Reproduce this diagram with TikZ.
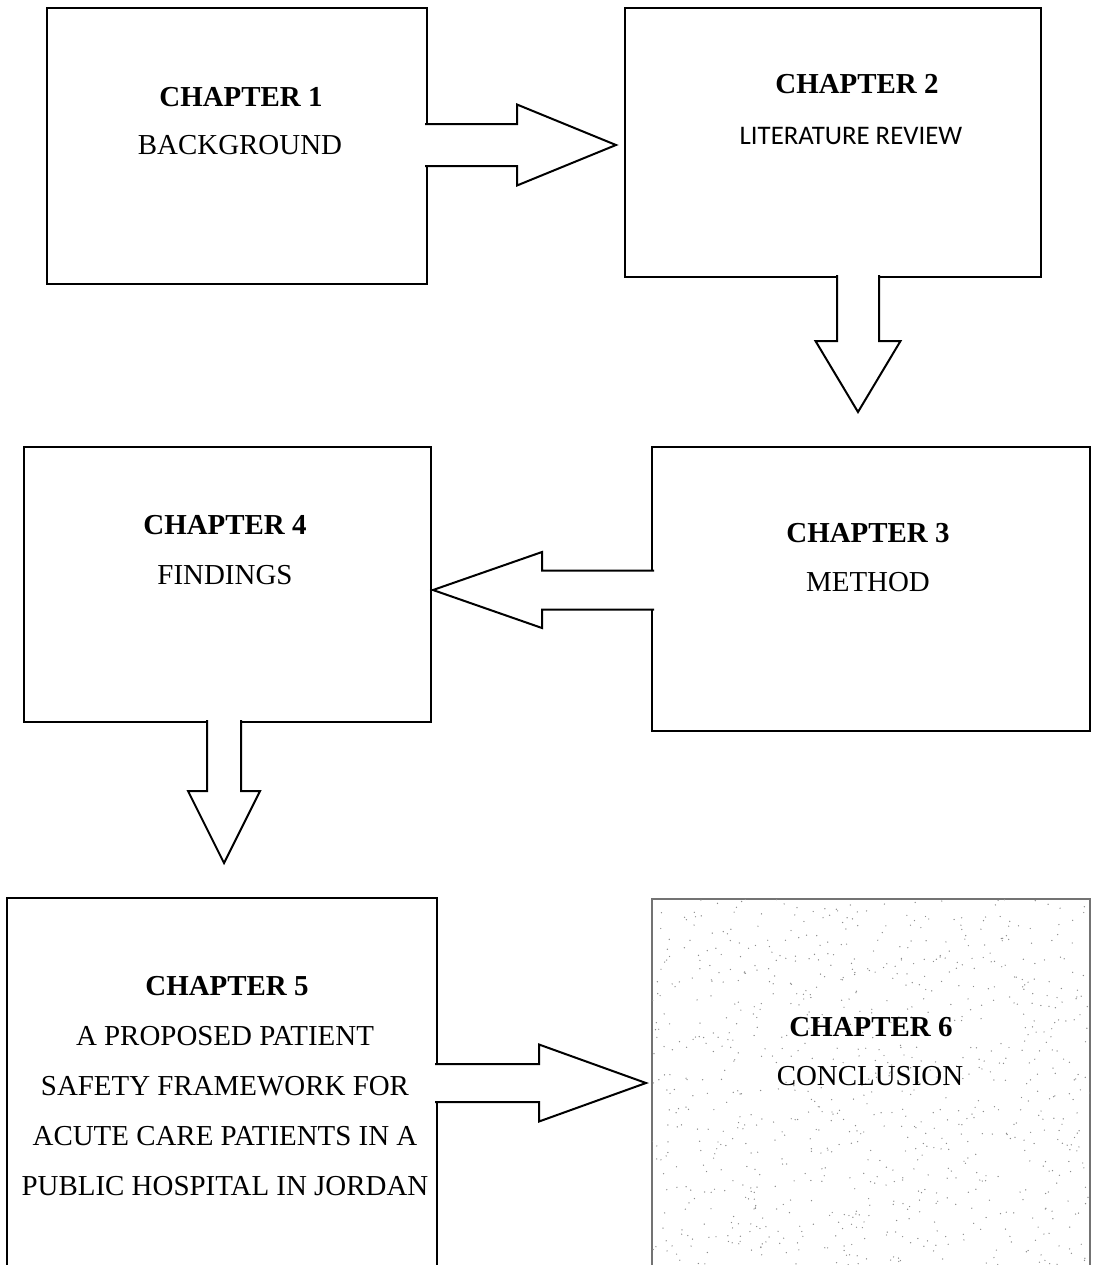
\documentclass[tikz,border=0pt]{standalone}
\usepackage{fontspec}
\setmainfont{Liberation Serif}
\newfontfamily\calibrifont{Carlito}
\usetikzlibrary{calc}
\begin{document}
\begin{tikzpicture}[x=0.75pt,y=-0.75pt,
  box/.style={draw, line width=1.5pt, inner sep=0pt, outer sep=0pt, anchor=north west},
  txt/.style={font=\fontsize{21.7}{26}\selectfont, inner sep=0pt, anchor=base},
  hdr/.style={txt, font=\fontsize{21.7}{26}\selectfont\bfseries},
  sans/.style={font=\fontsize{20.1}{24}\calibrifont, inner sep=0pt, anchor=base},
  blockarrow/.style={draw, line width=1.5pt, fill=white, line join=miter}]

\clip (0,0) rectangle (1093,1265);
\fill[white] (0,0) rectangle (1093,1265);

% chapter boxes
\node[box, minimum width=380*0.75pt, minimum height=276*0.75pt] (b1) at (47,8) {};
\node[box, minimum width=416*0.75pt, minimum height=269*0.75pt] (b2) at (625,8) {};
\node[box, minimum width=438*0.75pt, minimum height=284*0.75pt] (b3) at (652,447) {};
\node[box, minimum width=407*0.75pt, minimum height=275*0.75pt] (b4) at (24,447) {};
\node[box, minimum width=430*0.75pt, minimum height=400*0.75pt] (b5) at (7,898) {};
\node[box, draw=black!55, line width=2pt, minimum width=438*0.75pt, minimum height=400*0.75pt] (b6) at (652,899) {};

% speckled shading of the last box
\begin{scope}
  \clip (652,899) rectangle (1090,1265);
  \pgfmathsetseed{4217}
  \foreach \i in {1,...,900}{
    \pgfmathsetmacro\rx{652+438*rnd}
    \pgfmathsetmacro\ry{899+366*rnd}
    \fill[black!45] (\rx,\ry) circle (0.7);
  }
\end{scope}

% block arrows between chapters
\coordinate (t12) at (616,145);
\coordinate (s12) at (b1.east |- t12);
\draw[blockarrow] ($(s12)+(-2,-21)$) -- ($(s12)+(90,-21)$) -- ($(s12)+(90,-40.5)$) -- (t12)
  -- ($(s12)+(90,40.5)$) -- ($(s12)+(90,21)$) -- ($(s12)+(-2,21)$);

\coordinate (t23) at (858,412);
\coordinate (s23) at (t23 |- b2.south);
\draw[blockarrow] ($(s23)+(-21,-2)$) -- ($(s23)+(-21,64)$) -- ($(s23)+(-42.5,64)$) -- (t23)
  -- ($(s23)+(42.5,64)$) -- ($(s23)+(21,64)$) -- ($(s23)+(21,-2)$);

\coordinate (t34) at (433,590);
\coordinate (s34) at (b3.west |- t34);
\draw[blockarrow] ($(s34)+(2,-19.5)$) -- ($(s34)+(-110,-19.5)$) -- ($(s34)+(-110,-38)$) -- (t34)
  -- ($(s34)+(-110,38)$) -- ($(s34)+(-110,19.5)$) -- ($(s34)+(2,19.5)$);

\coordinate (t45) at (224,863);
\coordinate (s45) at (t45 |- b4.south);
\draw[blockarrow] ($(s45)+(-17,-2)$) -- ($(s45)+(-17,69)$) -- ($(s45)+(-36,69)$) -- (t45)
  -- ($(s45)+(36,69)$) -- ($(s45)+(17,69)$) -- ($(s45)+(17,-2)$);

\coordinate (t56) at (646,1083);
\coordinate (s56) at (b5.east |- t56);
\draw[blockarrow] ($(s56)+(-2,-19)$) -- ($(s56)+(102,-19)$) -- ($(s56)+(102,-38.5)$) -- (t56)
  -- ($(s56)+(102,38.5)$) -- ($(s56)+(102,19)$) -- ($(s56)+(-2,19)$);

% chapter titles
\node[hdr] (h1) at (241,106) {CHAPTER 1};
\node[txt] (n1) at (240,154) {BACKGROUND};

\node[hdr] (h2) at (857,93) {CHAPTER 2};
\node[sans] (n2) at (851,144) {LITERATURE REVIEW};

\node[hdr] (h3) at (868,542) {CHAPTER 3};
\node[txt] (n3) at (868,591) {METHOD};

\node[hdr] (h4) at (225,534) {CHAPTER 4};
\node[txt] (n4) at (225,584) {FINDINGS};

\node[hdr] (h5) at (227,995) {CHAPTER 5};
\node[txt] (n5a) at (225,1045) {A PROPOSED PATIENT};
\node[txt] (n5b) at (225,1095) {SAFETY FRAMEWORK FOR};
\node[txt] (n5c) at (225,1145) {ACUTE CARE PATIENTS IN A};
\node[txt] (n5d) at (225,1195) {PUBLIC HOSPITAL IN JORDAN};

\node[hdr] (h6) at (871,1036) {CHAPTER 6};
\node[txt] (n6) at (870,1085) {CONCLUSION};
\end{tikzpicture}
\end{document}
